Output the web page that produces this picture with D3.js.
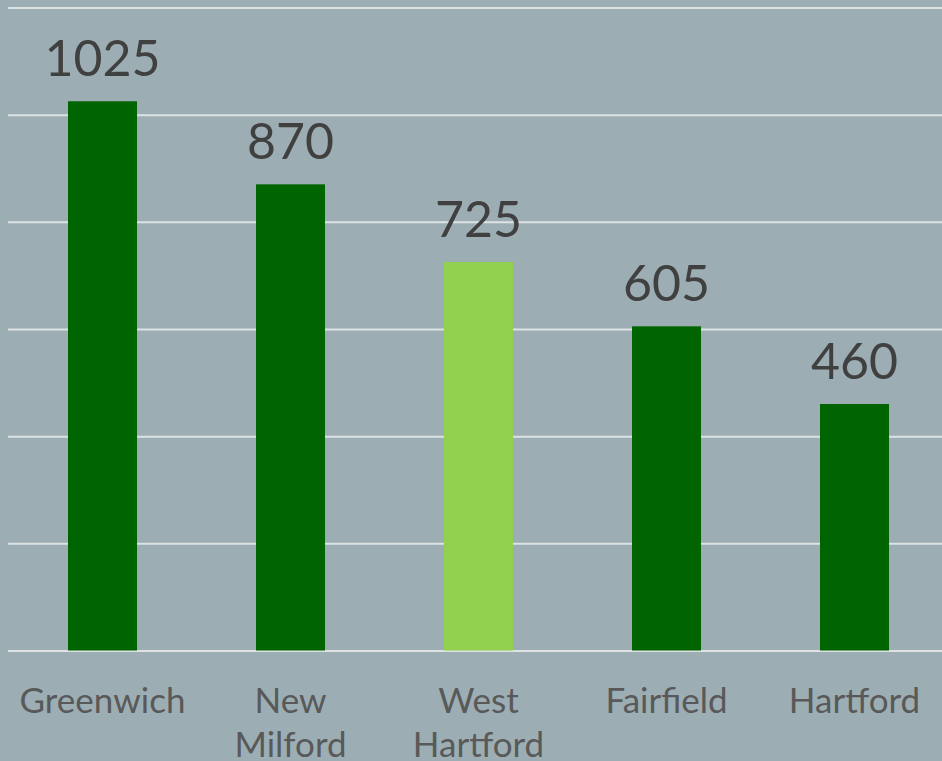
<!DOCTYPE html>
<html>
<head>
<meta charset="utf-8">
<script src="https://cdn.jsdelivr.net/npm/d3@7"></script>
<style>
  html, body { margin: 0; padding: 0; background: #9caeb4; }
  svg { display: block; }
  .grid line { stroke: #dde2e3; stroke-width: 2px; }
  .grid path { display: none; }
  .value { fill: #404040; font-family: Lato, "Open Sans", sans-serif; font-size: 50px; text-anchor: middle; }
  .cat { fill: #595959; font-family: Lato, "Open Sans", sans-serif; font-size: 35px; text-anchor: middle; }
</style>
</head>
<body>
<div class="content"></div>
<script>
// данные
var categories = ['Greenwich', 'New Milford', 'West Hartford', 'Fairfield', 'Hartford'];
var values = [1025, 870, 725, 605, 460];
var highlighted = 'West Hartford';
var gridTicks = [0, 200, 400, 600, 800, 1000, 1200];

// размеры
var w = 942,
    h = 761;

var svg = d3.select('.content').append('svg')
    .attr('width', w)
    .attr('height', h);

// шкалы
var x = d3.scaleBand()
    .domain(categories)
    .range([8.5, 948.5])
    .paddingInner(0.633)
    .paddingOuter(0.3165);

var y = d3.scaleLinear()
    .domain([0, 1200])
    .range([650.5, 7.5]);

// сетка
svg.append('g')
    .attr('class', 'grid')
    .attr('transform', 'translate(8,0)')
    .call(d3.axisRight(y).tickValues(gridTicks).tickSize(w - 8).tickFormat(''));

var data = categories.map(function(c, i) { return { name: c, value: values[i] }; });

// столбцы
svg.selectAll('rect.bar')
    .data(data)
    .enter()
    .append('rect')
    .attr('class', 'bar')
    .attr('x', function(d) { return x(d.name); })
    .attr('width', x.bandwidth())
    .attr('y', function(d) { return y(d.value); })
    .attr('height', function(d) { return y(0) - y(d.value); })
    .style('fill', function(d) { return d.name === highlighted ? '#92d050' : '#006400'; });

// подписи значений
svg.selectAll('text.value')
    .data(data)
    .enter()
    .append('text')
    .attr('class', 'value')
    .attr('x', function(d) { return x(d.name) + x.bandwidth() / 2; })
    .attr('y', function(d) { return y(d.value) - 25; })
    .text(function(d) { return d.value; });

// подписи категорий (перенос по словам)
var cat = svg.selectAll('text.cat')
    .data(data)
    .enter()
    .append('text')
    .attr('class', 'cat')
    .attr('x', function(d) { return x(d.name) + x.bandwidth() / 2; })
    .attr('y', 713);

cat.each(function(d) {
    var words = d.name.split(' ');
    var t = d3.select(this);
    words.forEach(function(wd, i) {
        t.append('tspan')
            .attr('x', t.attr('x'))
            .attr('dy', i === 0 ? 0 : 44)
            .text(wd);
    });
});
</script>
</body>
</html>
